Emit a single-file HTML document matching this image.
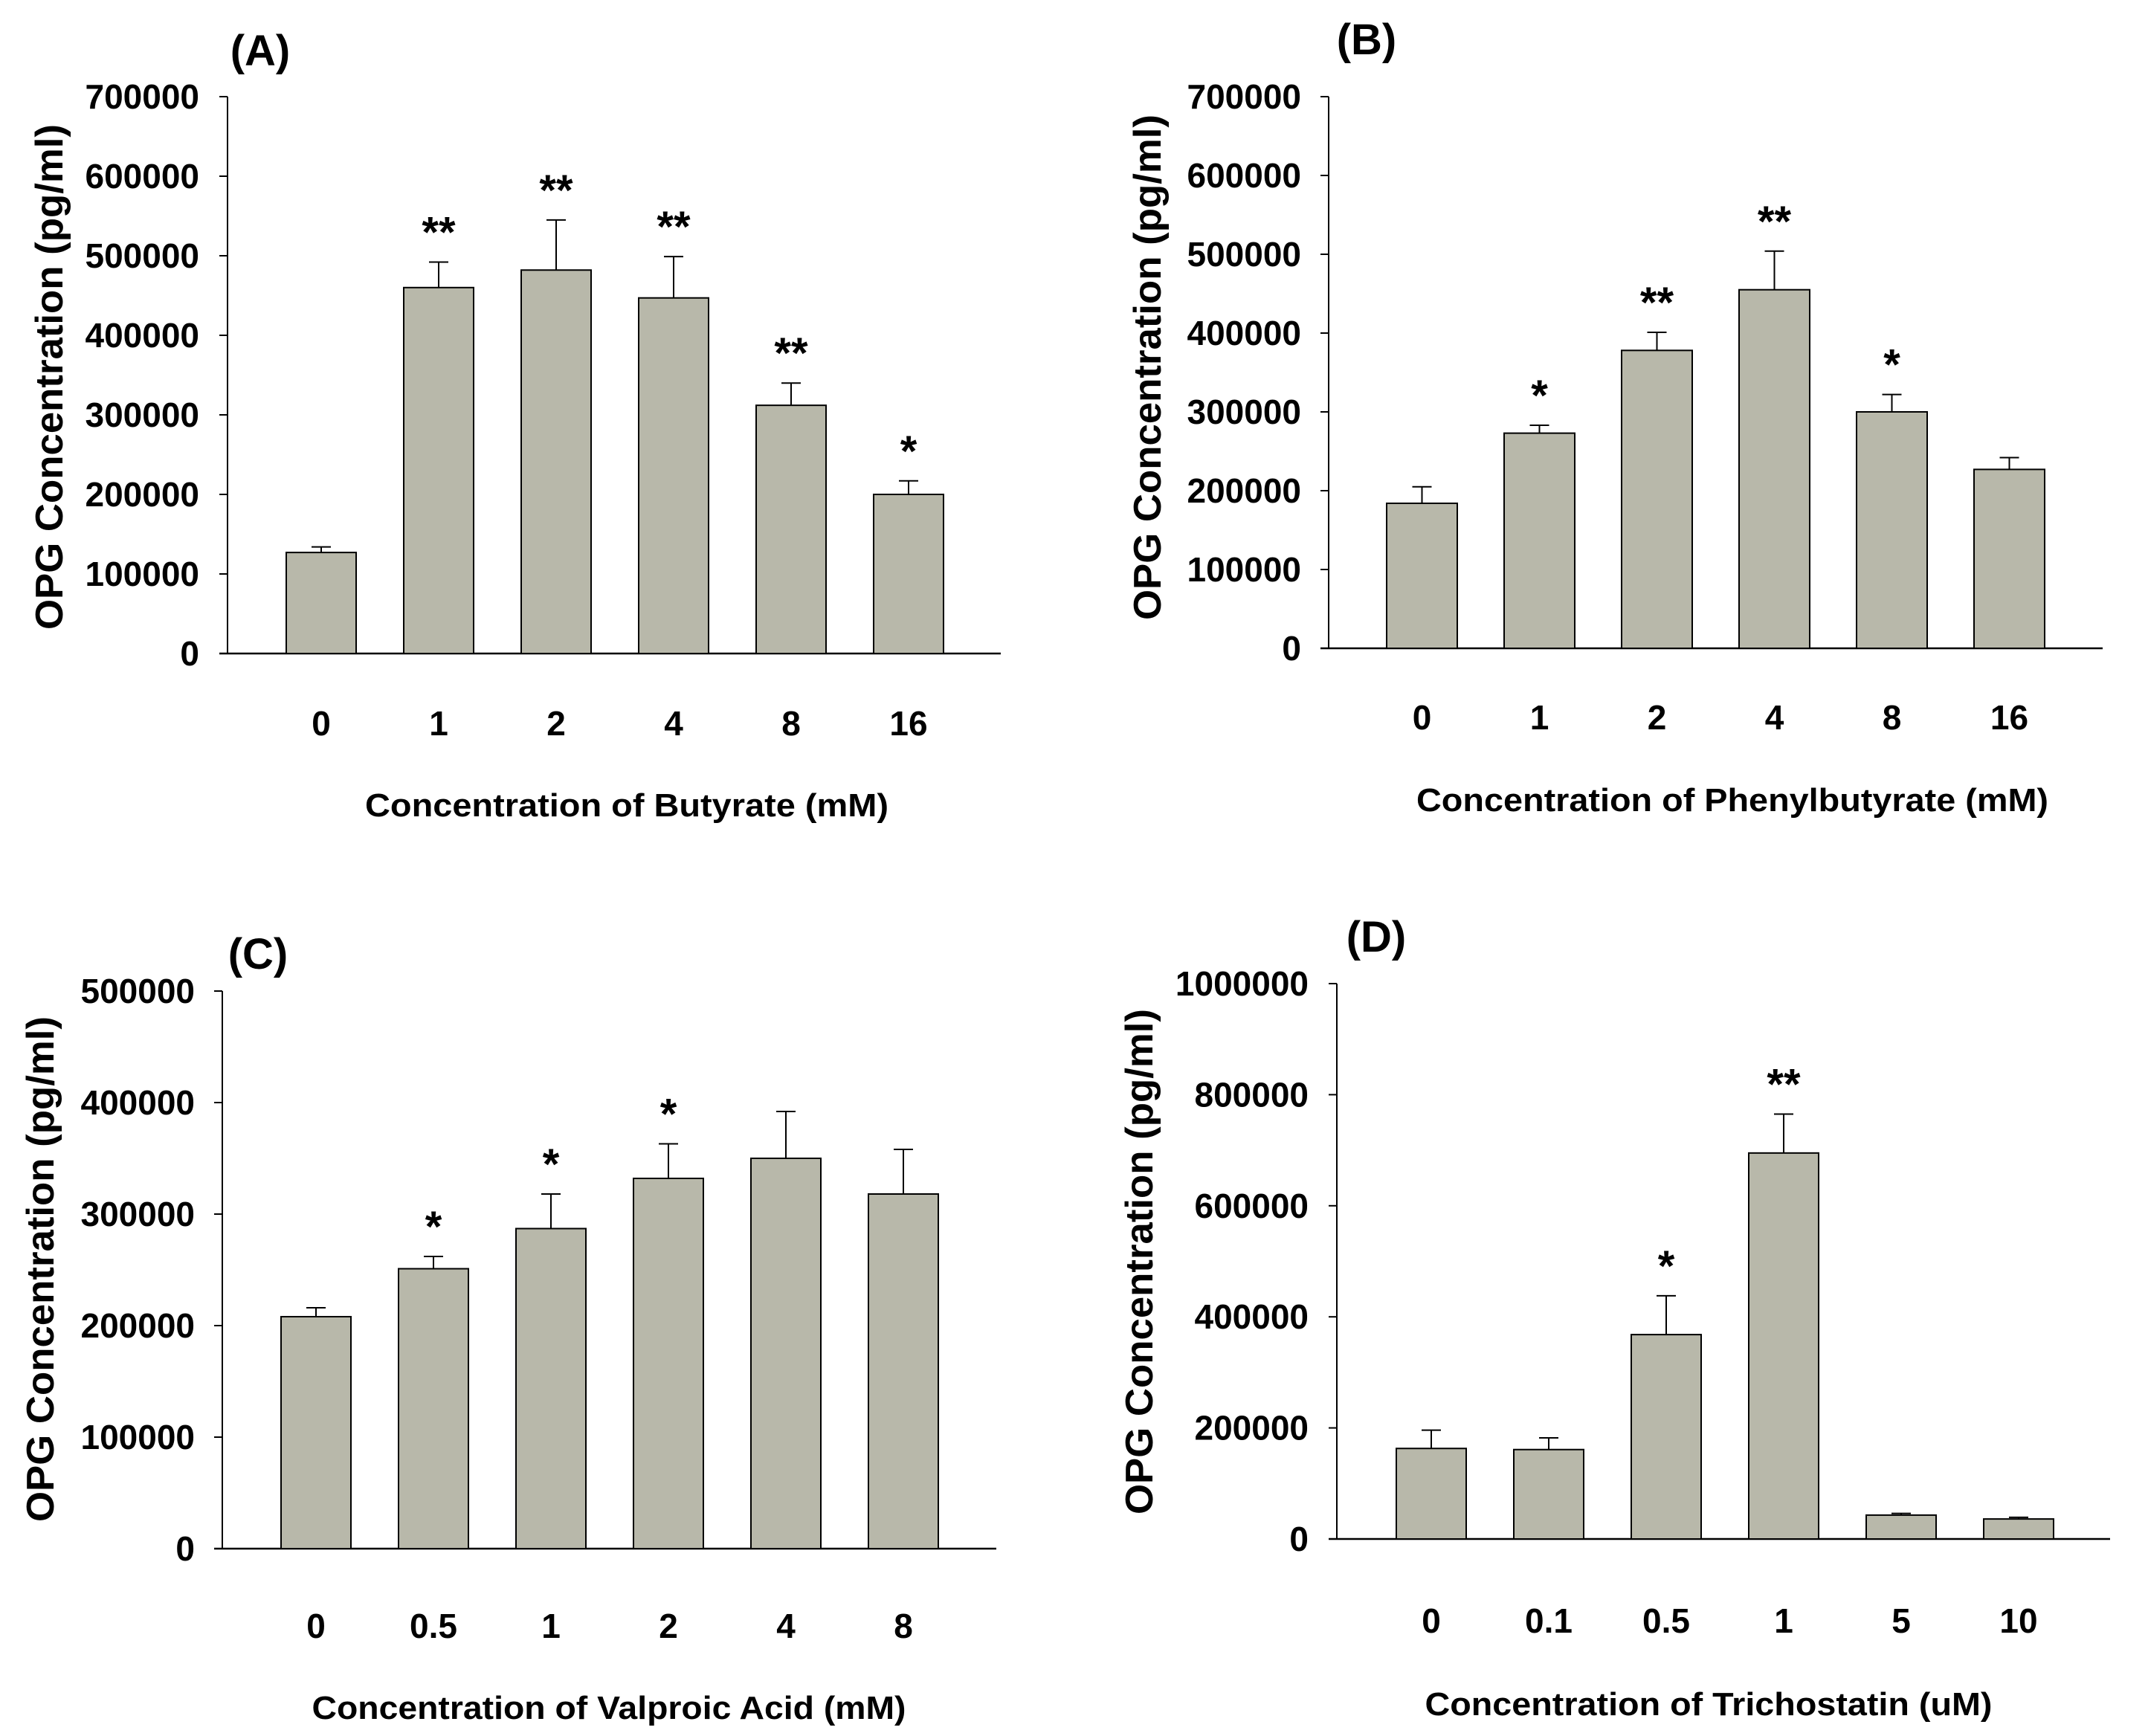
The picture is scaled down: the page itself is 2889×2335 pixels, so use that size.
<!DOCTYPE html>
<html><head><meta charset="utf-8"><style>
html,body{margin:0;padding:0;background:#fff;}
svg{display:block;font-family:"Liberation Sans",Arial,sans-serif;font-weight:bold;}
</style></head><body>
<svg id="fig" width="2889" height="2335" viewBox="0 0 2889 2335" xmlns="http://www.w3.org/2000/svg"></svg>
<script>
// Panel A data
const catsA = ["0","1","2","4","8","16"];
const valsA = [127000,460000,482000,447000,312000,200000];
const errA = [134000,492000,545000,499000,340000,217000];
const starsA = ["","**","**","**","**","*"];
const ticksA = [0,100000,200000,300000,400000,500000,600000,700000];
// Panel B data
const catsB = ["0","1","2","4","8","16"];
const valsB = [184000,273000,378000,455000,300000,227000];
const errB = [205000,283000,401000,504000,322000,242000];
const starsB = ["","*","**","**","*",""];
const ticksB = [0,100000,200000,300000,400000,500000,600000,700000];
// Panel C data
const catsC = ["0","0.5","1","2","4","8"];
const valsC = [208000,251000,287000,332000,350000,318000];
const errC = [216000,262000,318000,363000,392000,358000];
const starsC = ["","*","*","*","",""];
const ticksC = [0,100000,200000,300000,400000,500000];
// Panel D data
const catsD = ["0","0.1","0.5","1","5","10"];
const valsD = [163000,161000,368000,695000,43000,36000];
const errD = [196000,182000,438000,765000,46000,39000];
const starsD = ["","","*","**","",""];
const ticksD = [0,200000,400000,600000,800000,1000000];

const NS="http://www.w3.org/2000/svg";
const svg=document.getElementById('fig');
function mk(tag,attrs,parent){const e=document.createElementNS(NS,tag);for(const k in attrs)e.setAttribute(k,attrs[k]);(parent||svg).appendChild(e);return e;}

function panel(cfg){
  const g=mk('g',{});
  
  
  const ymax=cfg.ticks[cfg.ticks.length-1];
  const yS=v=>cfg.zero-(v/ymax)*(cfg.zero-cfg.top);
  const xS=i=>cfg.bar0+i*cfg.step;
  const ya=mk('line',{x1:cfg.ax,y1:cfg.top,x2:cfg.ax,y2:cfg.zero,stroke:'#000','stroke-width':2},g);
  
  
  const xa=mk('line',{x1:cfg.ax-11,y1:cfg.zero,x2:cfg.right,y2:cfg.zero,stroke:'#000','stroke-width':2.5},g);
  
  
  cfg.ticks.forEach(t=>{
    const y=yS(t);
    mk('line',{x1:cfg.ax-11,y1:y,x2:cfg.ax,y2:y,stroke:'#000','stroke-width':2},g);
    const tx=mk('text',{x:cfg.tickR,y:y+16,'text-anchor':'end','font-size':46},g);
    tx.textContent=String(t);
    
    
  });
  cfg.vals.forEach((v,i)=>{
    const x=xS(i);
    const r=mk('rect',{x:x,y:yS(v),width:cfg.bw,height:cfg.zero-yS(v),fill:'#b8b8aa',stroke:'#000','stroke-width':2},g);
    
    
    const cx=x+cfg.bw/2, et=yS(cfg.err[i]);
    const el=mk('path',{d:`M${cx},${yS(v)}V${et}M${cx-13},${et}H${cx+13}`,stroke:'#000','stroke-width':2,fill:'none'},g);
    
    
    if(cfg.stars[i]){
      const s=mk('text',{x:cx,y:et-20,'text-anchor':'middle','font-size':58},g);
      s.textContent=cfg.stars[i];
      
      
    }
    const xl=mk('text',{x:cx,y:cfg.xlabY+16,'text-anchor':'middle','font-size':46},g);
    xl.textContent=cfg.cats[i];
    
    
  });
  const xt=mk('text',{x:cfg.xtX,y:cfg.xtY+16,'text-anchor':'middle','font-size':44,textLength:cfg.xtW,lengthAdjust:'spacingAndGlyphs'},g);
  xt.textContent=cfg.xtitle;
  
  
  const yt=mk('text',{x:0,y:0,'text-anchor':'middle','font-size':52,textLength:680,lengthAdjust:'spacingAndGlyphs',transform:`translate(${cfg.ytX+19},${cfg.ytY}) rotate(-90)`},g);
  yt.textContent='OPG Concentration (pg/ml)';
  
  
  const pl=mk('text',{x:cfg.plX,y:cfg.plY+21,'text-anchor':'middle','font-size':58},g);
  pl.textContent='('+cfg.id+')';
  
  
}

panel({id:'A',cats:catsA,vals:valsA,err:errA,stars:starsA,ticks:ticksA,ax:306,top:130,zero:879,right:1346,bar0:385,step:158,bw:94,tickR:268,xlabY:973,xtX:843,xtY:1082,xtW:704,xtitle:'Concentration of Butyrate (mM)',ytX:65,ytY:507,plX:350,plY:67});
panel({id:'B',cats:catsB,vals:valsB,err:errB,stars:starsB,ticks:ticksB,ax:1787,top:130,zero:872,right:2828,bar0:1865,step:158,bw:95,tickR:1750,xlabY:965,xtX:2330,xtY:1075,xtW:850,xtitle:'Concentration of Phenylbutyrate (mM)',ytX:1542,ytY:494,plX:1838,plY:52});
panel({id:'C',cats:catsC,vals:valsC,err:errC,stars:starsC,ticks:ticksC,ax:299,top:1333,zero:2083,right:1340,bar0:378,step:158,bw:94,tickR:262,xlabY:2187,xtX:819,xtY:2296,xtW:799,xtitle:'Concentration of  Valproic Acid (mM)',ytX:53,ytY:1707,plX:347,plY:1282});
panel({id:'D',cats:catsD,vals:valsD,err:errD,stars:starsD,ticks:ticksD,ax:1798,top:1323,zero:2070,right:2838,bar0:1878,step:158,bw:94,tickR:1760,xlabY:2180,xtX:2298,xtY:2291,xtW:763,xtitle:'Concentration of Trichostatin (uM)',ytX:1531,ytY:1697,plX:1851,plY:1259});
</script>
</body></html>
